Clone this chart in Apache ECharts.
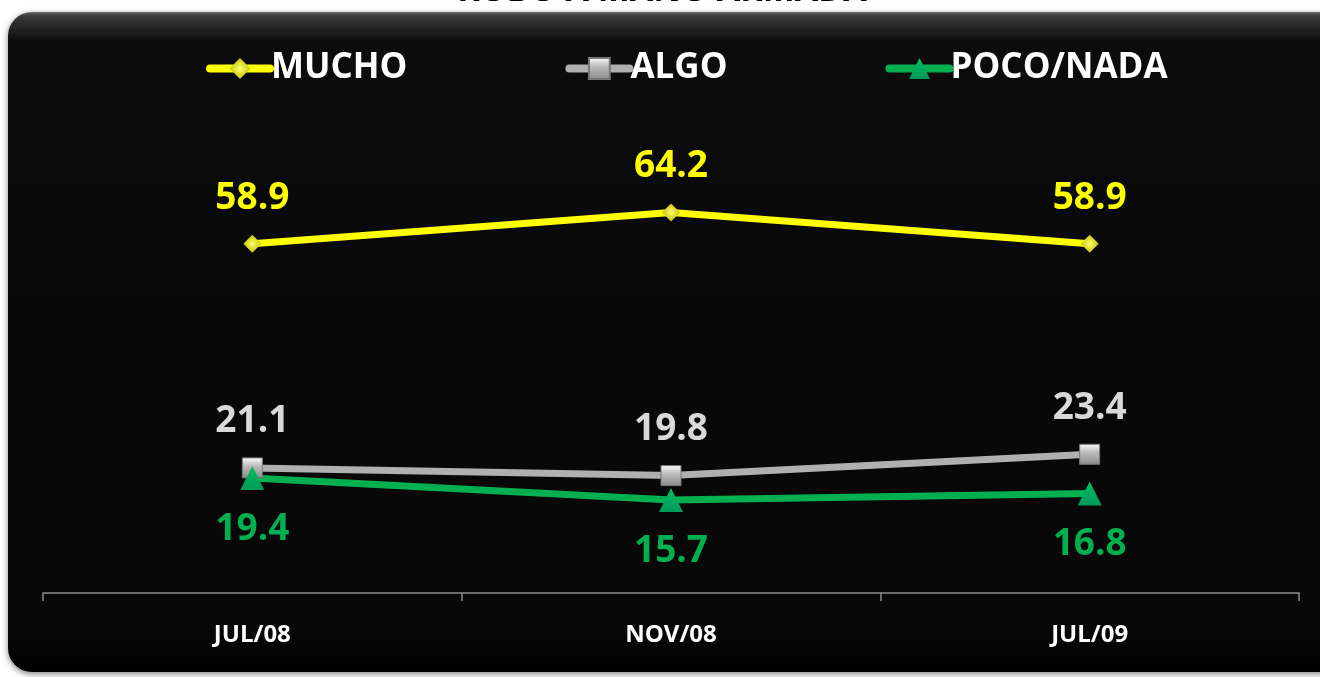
<!DOCTYPE html>
<html>
<head>
<meta charset="utf-8">
<script src="https://cdn.jsdelivr.net/npm/echarts@6/dist/echarts.min.js"></script>
<style>
html,body{margin:0;padding:0;background:#fff;}
#c{width:1320px;height:677px;}
</style>
</head>
<body>
<div id="c"></div>
<script>
var categories = ['JUL/08', 'NOV/08', 'JUL/09'];
var mucho = [58.9, 64.2, 58.9];
var algo = [21.1, 19.8, 23.4];
var pocoNada = [19.4, 15.7, 16.8];
var seriesNames = ['MUCHO', 'ALGO', 'POCO/NADA'];
var titleText = 'ROBO A MANO ARMADA';

var FONT = '"Open Sans", "Liberation Sans", sans-serif';
var chart = echarts.init(document.getElementById('c'), null, {renderer: 'canvas'});

function lbl(color, pos, dist) {
  return {
    show: true, position: pos, distance: dist, color: color,
    fontFamily: FONT, fontWeight: 'bold', fontSize: 37,
    formatter: function (p) { return p.value.toFixed(1); }
  };
}

var option = {
  backgroundColor: '#ffffff',
  animation: false,
  graphic: [
    {
      type: 'rect', z: -10, silent: true,
      shape: {x: 8, y: 12, width: 1340, height: 660, r: 24},
      style: {
        fill: new echarts.graphic.LinearGradient(0, 0, 0, 1, [
          {offset: 0, color: '#6a6a6a'},
          {offset: 0.006, color: '#3a3a3a'},
          {offset: 0.045, color: '#0c0c0c'},
          {offset: 0.5, color: '#080808'},
          {offset: 0.93, color: '#080808'},
          {offset: 1, color: '#000000'}
        ]),
        shadowBlur: 6, shadowColor: 'rgba(0,0,0,0.5)', shadowOffsetY: 2
      }
    },
    {
      type: 'text', x: 662, y: 8, z: 100, silent: true,
      style: {text: titleText, fill: '#000', font: 'bold 34px ' + FONT,
        textAlign: 'center', textVerticalAlign: 'bottom'}
    }
  ],
  legend: {
    data: seriesNames,
    left: 201, top: 46,
    itemWidth: 60, itemHeight: 26, itemGap: 158,
    lineStyle: {width: 8, cap: 'round'},
    textStyle: {color: '#ffffff', fontFamily: FONT, fontWeight: 'bold', fontSize: 35, padding: [0, 0, 0, -4]}
  },
  grid: {left: 43, right: 21, top: 178, bottom: 84},
  xAxis: {
    type: 'category', data: categories, boundaryGap: true,
    axisLine: {lineStyle: {color: '#8c8c8c', width: 1.5}},
    axisTick: {show: true, length: 8, lineStyle: {color: '#8c8c8c', width: 1.5}},
    axisLabel: {color: '#ffffff', fontFamily: FONT, fontWeight: 'bold', fontSize: 24, margin: 30}
  },
  yAxis: {type: 'value', min: 0, max: 70, show: false, splitLine: {show: false}},
  series: [
    {
      name: seriesNames[0], type: 'line', data: mucho,
      symbol: 'diamond', symbolSize: 18,
      lineStyle: {color: '#ffff00', width: 7},
      itemStyle: {color: new echarts.graphic.RadialGradient(0.5, 0.5, 0.6, [
        {offset: 0, color: '#ffff66'}, {offset: 1, color: '#b8b800'}]), borderWidth: 0},
      label: lbl('#ffff00', 'top', 18)
    },
    {
      name: seriesNames[1], type: 'line', data: algo,
      symbol: 'rect', symbolSize: 20,
      lineStyle: {color: '#b0b0b0', width: 7},
      itemStyle: {color: new echarts.graphic.LinearGradient(0, 0, 0, 1, [
        {offset: 0, color: '#ffffff'}, {offset: 0.4, color: '#bdbdbd'}, {offset: 1, color: '#8a8a8a'}]),
        borderColor: '#777', borderWidth: 1},
      label: lbl('#d9d9d9', 'top', 17)
    },
    {
      name: seriesNames[2], type: 'line', data: pocoNada,
      symbol: 'triangle', symbolSize: 24,
      lineStyle: {color: '#00b050', width: 7},
      itemStyle: {color: new echarts.graphic.LinearGradient(0, 0, 0, 1, [
        {offset: 0, color: '#00c060'}, {offset: 1, color: '#00995a'}]), borderWidth: 0},
      label: lbl('#00b050', 'bottom', 21)
    }
  ]
};
chart.setOption(option);
</script>
</body>
</html>
